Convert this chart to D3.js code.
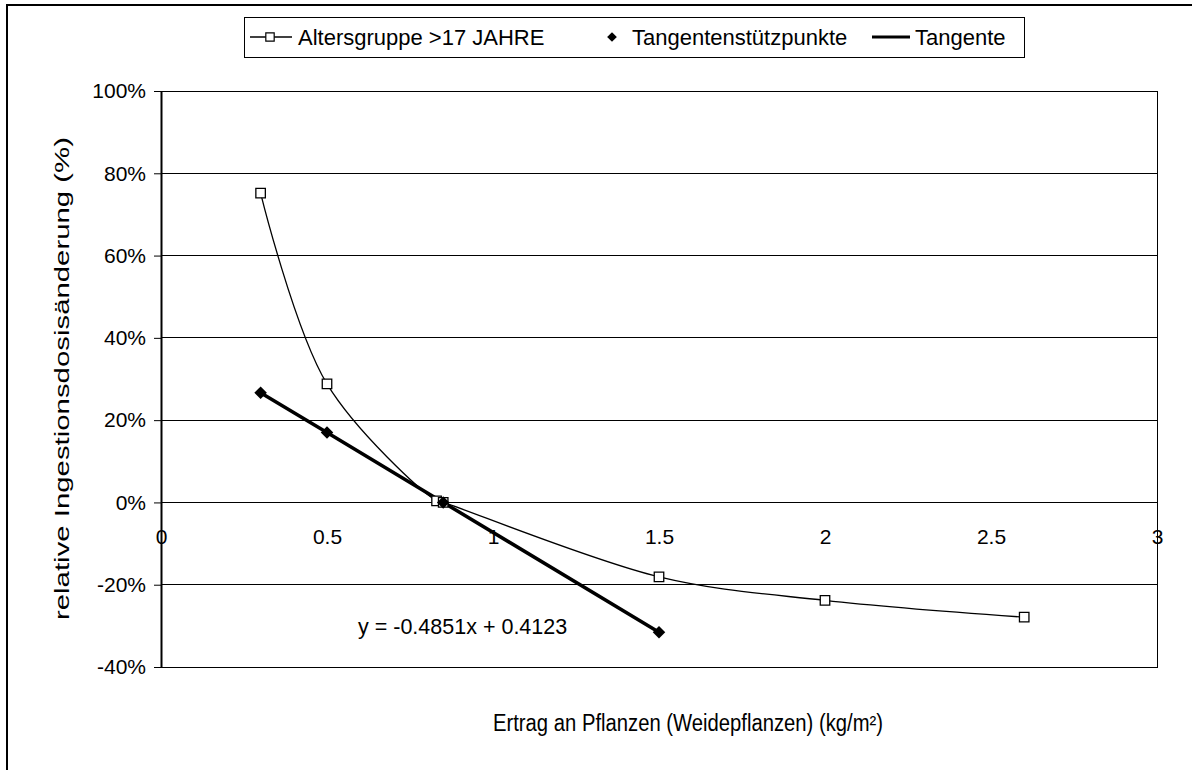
<!DOCTYPE html>
<html>
<head>
<meta charset="utf-8">
<script src="https://cdn.jsdelivr.net/npm/d3@7"></script>
<style>
	body { margin: 0; background: #fff; }
	svg { display: block; font-family: "Liberation Sans", Arial, sans-serif; }
</style>
</head>
<body>
<svg id="chart" width="1192" height="770"></svg>
<script>
// series "Altersgruppe >17 JAHRE"
let age_x = [0.3, 0.5, 0.83, 0.85, 1.5, 2.0, 2.6]
let age_y = [0.752, 0.288, 0.004, 0.0, -0.181, -0.238, -0.279]

// tangent support points
let tan_x = [0.3, 0.5, 0.85, 1.5]
let tan_y = [0.2668, 0.1698, 0.0, -0.3154]

let y_ticks = [-0.4, -0.2, 0, 0.2, 0.4, 0.6, 0.8, 1.0]
let x_ticks = [0, 0.5, 1, 1.5, 2, 2.5, 3]

let legend_labels = ['Altersgruppe >17 JAHRE', 'Tangentenstützpunkte', 'Tangente']
let equation = 'y = -0.4851x + 0.4123'
let x_title = 'Ertrag an Pflanzen (Weidepflanzen) (kg/m²)'
let y_title = 'relative Ingestionsdosisänderung (%)'

let PLOT = { left: 161, right: 1157, top: 91, bottom: 667 }
let FONT = 21

let svg = d3.select('#chart')

// outer chart border (runs off the picture on right / bottom)
svg.append('rect')
	.attr('x', 7).attr('y', 5)
	.attr('width', 1200).attr('height', 800)
	.attr('fill', 'none')
	.attr('stroke', '#000')
	.attr('stroke-width', 2)

let x = d3.scaleLinear().domain([0, 3]).range([PLOT.left, PLOT.right])
let y = d3.scaleLinear().domain([-0.4, 1]).range([PLOT.bottom, PLOT.top])

// gridlines
svg.append('g')
	.selectAll('line')
	.data(y_ticks)
	.join('line')
		.attr('x1', PLOT.left).attr('x2', PLOT.right)
		.attr('y1', (d) => y(d)).attr('y2', (d) => y(d))
		.attr('stroke', '#000')
		.attr('stroke-width', 1)
		.attr('shape-rendering', 'crispEdges')

// plot frame
svg.append('rect')
	.attr('x', PLOT.left).attr('y', PLOT.top)
	.attr('width', PLOT.right - PLOT.left).attr('height', PLOT.bottom - PLOT.top)
	.attr('fill', 'none')
	.attr('stroke', '#000')
	.attr('stroke-width', 1)
	.attr('shape-rendering', 'crispEdges')

// y axis
let y_axis = svg.append('g')
	.attr('transform', `translate(${PLOT.left}, 0)`)
	.call(d3.axisLeft(y).tickValues(y_ticks).tickSize(7).tickSizeOuter(0))
y_axis.select('.domain').attr('stroke-width', 2)
y_axis.selectAll('text')
	.attr('font-size', FONT)
	.attr('font-family', '"Liberation Sans", Arial, sans-serif')
	.attr('fill', '#000')
	.attr('x', -15)
	.text((d) => `${Math.round(d * 100)}%`)

// x axis through 0%
let x_axis = svg.append('g')
	.attr('transform', `translate(0, ${y(0)})`)
	.call(d3.axisBottom(x).tickValues(x_ticks).tickSize(0).tickSizeOuter(0)
		.tickFormat((d) => String(d)))
x_axis.select('.domain').remove()
x_axis.selectAll('text')
	.attr('font-size', FONT)
	.attr('font-family', '"Liberation Sans", Arial, sans-serif')
	.attr('fill', '#000')
	.attr('y', 27)

// smoothed age-group curve
let age_pts = age_x.map((v, i) => [v, age_y[i]])
let smooth = d3.line()
	.x((d) => x(d[0]))
	.y((d) => y(d[1]))
	.curve(d3.curveCatmullRom.alpha(0.5))

svg.append('path')
	.attr('d', smooth(age_pts))
	.attr('fill', 'none')
	.attr('stroke', '#000')
	.attr('stroke-width', 1.3)

// tangent line
let tan_pts = tan_x.map((v, i) => [v, tan_y[i]])
svg.append('path')
	.attr('d', d3.line().x((d) => x(d[0])).y((d) => y(d[1]))(tan_pts))
	.attr('fill', 'none')
	.attr('stroke', '#000')
	.attr('stroke-width', 3.5)

let square = d3.symbol().type(d3.symbolSquare).size(90)
let diamond = d3.symbol().type(d3.symbolDiamond2 || d3.symbolDiamond).size(100)

svg.append('g')
	.selectAll('path')
	.data(age_pts)
	.join('path')
		.attr('transform', (d) => `translate(${x(d[0])}, ${y(d[1])})`)
		.attr('d', square())
		.attr('fill', '#fff')
		.attr('stroke', '#000')
		.attr('stroke-width', 1.3)

svg.append('g')
	.selectAll('path')
	.data(tan_pts)
	.join('path')
		.attr('transform', (d) => `translate(${x(d[0])}, ${y(d[1])})`)
		.attr('d', diamond())
		.attr('fill', '#000')

// equation
svg.append('text')
	.attr('x', 358).attr('y', 634)
	.attr('font-size', 21.5)
	.text(equation)

// axis titles
svg.append('text')
	.attr('x', 493).attr('y', 731)
	.attr('font-size', 23)
	.attr('textLength', 390)
	.attr('lengthAdjust', 'spacingAndGlyphs')
	.text(x_title)

svg.append('text')
	.attr('transform', `translate(69, 620) rotate(-90)`)
	.attr('font-size', 20)
	.attr('textLength', 483)
	.attr('lengthAdjust', 'spacingAndGlyphs')
	.text(y_title)

// legend
let legend = svg.append('g')
legend.append('rect')
	.attr('x', 244).attr('y', 17)
	.attr('width', 780).attr('height', 40)
	.attr('fill', '#fff')
	.attr('stroke', '#000')
	.attr('stroke-width', 1)
	.attr('shape-rendering', 'crispEdges')

let ly = 37
let legend_text = (x0, label) => {
	legend.append('text')
		.attr('x', x0).attr('y', ly + 8)
		.attr('font-size', 22)
		.text(label)
}

legend.append('line')
	.attr('x1', 250).attr('x2', 292).attr('y1', ly).attr('y2', ly)
	.attr('stroke', '#000').attr('stroke-width', 1.3)
legend.append('path')
	.attr('transform', `translate(270, ${ly})`)
	.attr('d', d3.symbol().type(d3.symbolSquare).size(70)())
	.attr('fill', '#fff').attr('stroke', '#000').attr('stroke-width', 1.2)
legend_text(298, legend_labels[0])

legend.append('path')
	.attr('transform', `translate(612, ${ly})`)
	.attr('d', d3.symbol().type(d3.symbolDiamond2 || d3.symbolDiamond).size(60)())
	.attr('fill', '#000')
legend_text(632, legend_labels[1])

legend.append('line')
	.attr('x1', 872).attr('x2', 910).attr('y1', ly).attr('y2', ly)
	.attr('stroke', '#000').attr('stroke-width', 3)
legend_text(915, legend_labels[2])
</script>
</body>
</html>
